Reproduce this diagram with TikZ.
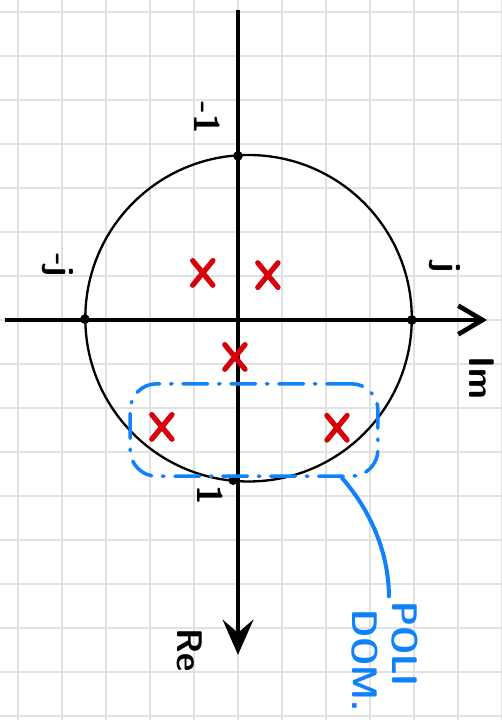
\documentclass[tikz,border=0pt]{standalone}
\usepackage{tikz}
\usetikzlibrary{arrows.meta,shapes.misc,calc}
\definecolor{polered}{RGB}{215,0,10}
\definecolor{penblue}{RGB}{15,130,250}
\definecolor{gridgray}{RGB}{225,225,225}
\tikzset{
  gridline/.style={gridgray, line width=0.9pt},
  axisline/.style={line width=3.2pt},
  unitcirc/.style={line width=1.5pt},
  pole/.style={cross out, draw=polered, line width=3.4pt, line cap=round, minimum width=3.4mm, minimum height=4.4mm, inner sep=0pt},
  hit/.style={circle, fill=black, minimum size=2.2mm, inner sep=0pt},
  hand/.style={rotate=-90, inner sep=0pt, font=\fontsize{23}{25}\selectfont\sffamily\bfseries},
  domregion/.style={draw=penblue, rounded corners=6mm, line width=2.3pt, line cap=round, dash pattern=on 16pt off 7pt on 1pt off 7pt, minimum width=56.3mm, minimum height=21mm},
  pointer/.style={penblue, line width=2.6pt, line cap=round}
}

\begin{document}
\begin{tikzpicture}
  \useasboundingbox (-5.409,-9.091) rectangle (6.0,7.273);
  % squared paper
  \draw[gridline] (-5.409,-9.091) grid (6.0,7.273);

  % unit circle (drawn by hand, a bit off-centre)
  \draw[unitcirc] (0.24,0.04) circle (3.71);

  % axes: Im to the right, Re downwards
  \coordinate (imL) at (-5.30,0);
  \coordinate (imR) at (5.66,0);
  \coordinate (reT) at (0,7.05);
  \coordinate (reB) at (0,-7.61);
  \draw[axisline, -{Straight Barb[length=5.5mm, width=6.5mm, line width=3pt]}] (imL) -- (imR);
  \draw[axisline, -{Stealth[length=8mm, width=7mm, inset=3mm]}] (reT) -- (reB);

  % crossings with the circle
  \node[hit] (ht) at (0,3.73) {};
  \node[hit] (hb) at (-0.11,-3.64) {};
  \node[hit] (hl) at (-3.48,0.02) {};
  \node[hit] (hr) at (3.95,0) {};

  % labels
  \node[hand] (lm1) at (-0.70,4.59) {-1};
  \node[hand] (lmj) at (-4.09,1.25) {-j};
  \node[hand] (lj)  at (4.70,1.18) {j};
  \node[hand] (l1)  at (-0.64,-3.98) {1};
  \node[hand] (lim) at (5.55,-1.32) {Im};
  \node[hand] (lre) at (-1.09,-7.50) {Re};

  % poles
  \node[pole] (p1) at (-0.80,1.07) {};
  \node[pole] (p2) at (0.68,1.02) {};
  \node[pole] (p3) at (-0.07,-0.84) {};
  \node[pole] (p4) at (-1.73,-2.43) {};
  \node[pole] (p5) at (2.25,-2.45) {};

  % dominant poles
  \node[domregion] (dom) at (0.365,-2.50) {};
  \node[hand, penblue] (poli) at (3.80,-7.36) {POLI};
  \node[hand, penblue] (domtxt) at (2.89,-7.73) {DOM.};
  \draw[pointer] ($(dom.south)+(2.0,0)$) .. controls +(0.75,-0.86) and +(0,0.84) .. ($(poli.west)+(-0.37,0.1)$);
\end{tikzpicture}
\end{document}
